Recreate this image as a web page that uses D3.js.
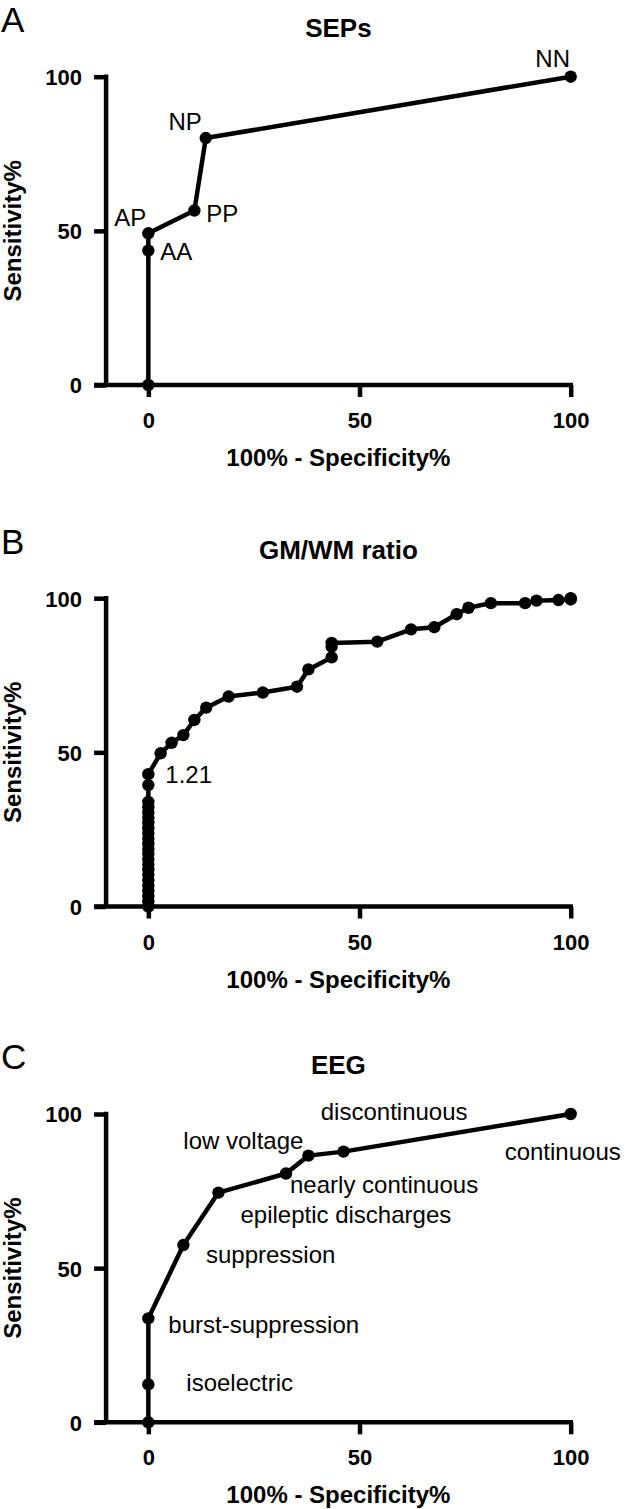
<!DOCTYPE html>
<html>
<head>
<meta charset="utf-8">
<script src="https://cdn.jsdelivr.net/npm/d3@7"></script>
<style>
  html, body { margin: 0; padding: 0; background: #fff; }
  svg { display: block; font-family: "Liberation Sans", Arial, Helvetica, sans-serif; }
</style>
</head>
<body>
<svg id="chart" width="625" height="1509"></svg>
<script>
// ---------------- DATA ----------------
const panelLetters = ["A", "B", "C"];
const panelTitles = ["SEPs", "GM/WM ratio", "EEG"];
const xTickValues = [0, 50, 100];
const yTickValues = [0, 50, 100];
const xAxisTitle = "100% - Specificity%";
const yAxisTitle = "Sensitivity%";

// Panel A: SEPs
const sepsFpr = [0, 0, 0, 10.9, 13.6, 100];
const sepsSens = [0, 43.6, 49.2, 56.6, 80.1, 100];
const sepsLabels = ["", "AA", "AP", "PP", "NP", "NN"];

// Panel B: GM/WM ratio
const gmwmFpr = [0, 0, 0, 0, 0, 0, 0, 0, 0, 0, 0, 0, 0, 0, 0, 0, 0, 0, 0, 0, 0, 0, 0,
  2.9, 5.5, 8.3, 10.9, 13.7, 19.0, 27.1, 35.2, 37.9, 43.4, 43.4, 43.4, 54.2, 62.2, 67.7,
  73.0, 75.8, 81.1, 89.2, 91.9, 97.1, 100, 100];
const gmwmSens = [0, 1.7, 3.4, 5.1, 6.8, 8.5, 10.2, 11.9, 13.6, 15.3, 17.0, 18.6, 20.3,
  22.0, 23.7, 25.4, 27.1, 28.8, 30.5, 32.2, 33.9, 39.4, 42.9,
  49.7, 53.1, 55.6, 60.5, 64.5, 68.1, 69.4, 71.3, 76.9, 80.8, 84.3, 85.5, 85.9, 89.9, 90.6,
  94.8, 96.9, 98.4, 98.4, 99.2, 99.4, 99.6, 100];
const gmwmLabels = gmwmFpr.map((d, i) => i === 22 ? "1.21" : "");

// Panel C: EEG
const eegFpr = [0, 0, 0, 8.3, 16.6, 32.6, 37.9, 46.2, 100];
const eegSens = [0, 12.3, 33.7, 57.5, 74.5, 80.7, 86.5, 87.8, 100];
const eegLabels = ["", "isoelectric", "burst-suppression", "suppression", "epileptic discharges",
  "nearly continuous", "low voltage", "discontinuous", "continuous"];

// ---------------- LAYOUT ----------------
const panels = [
  { fpr: sepsFpr, sens: sepsSens, labels: sepsLabels, top: 0,
    offs: [null, [12, 9, "start"], [-2, -7, "end"], [12, 11, "start"], [-4, -8, "end"], [-18, -10, "middle"]] },
  { fpr: gmwmFpr, sens: gmwmSens, labels: gmwmLabels, top: 521.5,
    offs: gmwmFpr.map((d, i) => i === 22 ? [17, 9, "start"] : null) },
  { fpr: eegFpr, sens: eegSens, labels: eegLabels, top: 1037.3,
    offs: [null, [38, 7, "start"], [20, 15, "start"], [22.6, 18, "start"], [22, 30, "start"],
      [4, 20, "start"], [-5, -7, "end"], [-22.7, -32, "start"], [-8, 46, "middle"]] }
];

const svg = d3.select("#chart");
const x = d3.scaleLinear().domain([-10, 100]).range([106.1, 570.7]);
const plotCenter = (x.range()[0] + x.range()[1]) / 2;
const lineW = 4.5;
const tickLen = 12;

panels.forEach((p, pi) => {
  const g = svg.append("g").attr("transform", `translate(0,${p.top})`);
  const y = d3.scaleLinear().domain([0, 100]).range([385, 76.7]);

  // panel letter
  g.append("text").attr("x", 1).attr("y", 32)
    .attr("font-size", 35).attr("fill", "#000").text(panelLetters[pi]);

  // title
  g.append("text").attr("x", plotCenter).attr("y", 37)
    .attr("text-anchor", "middle").attr("font-size", 26).attr("font-weight", "bold")
    .text(panelTitles[pi]);

  // x axis
  const xAxis = d3.axisBottom(x).tickValues(xTickValues).tickSize(tickLen).tickSizeOuter(0)
    .tickPadding(0).tickFormat(d3.format("d"));
  const gx = g.append("g").attr("transform", `translate(0,${y(0)})`).call(xAxis);
  gx.select(".domain").remove();
  gx.append("line").attr("x1", x(-10) - tickLen).attr("x2", x(100) + lineW / 2)
    .attr("stroke", "#000").attr("stroke-width", lineW);
  gx.selectAll(".tick line").attr("stroke", "#000").attr("stroke-width", lineW);
  gx.selectAll(".tick text").attr("fill", "#000").attr("font-size", 22).attr("font-weight", "bold")
    .attr("font-family", "Liberation Sans, Arial, sans-serif")
    .attr("dy", null).attr("y", 428 - 385);

  // y axis
  const yAxis = d3.axisLeft(y).tickValues(yTickValues).tickSize(tickLen).tickSizeOuter(0)
    .tickPadding(0).tickFormat(d3.format("d"));
  const gy = g.append("g").attr("transform", `translate(${x(-10)},0)`).call(yAxis);
  gy.select(".domain").remove();
  gy.append("line").attr("x1", 0).attr("x2", 0).attr("y1", y(0)).attr("y2", y(100) - lineW / 2)
    .attr("stroke", "#000").attr("stroke-width", lineW);
  gy.selectAll(".tick line").attr("stroke", "#000").attr("stroke-width", lineW);
  gy.selectAll(".tick text").attr("fill", "#000").attr("font-size", 22).attr("font-weight", "bold")
    .attr("font-family", "Liberation Sans, Arial, sans-serif")
    .attr("x", 82 - x(-10)).attr("dy", "0.36em");

  // axis titles
  g.append("text").attr("x", plotCenter).attr("y", 466)
    .attr("text-anchor", "middle").attr("font-size", 24).attr("font-weight", "bold")
    .text(xAxisTitle);
  g.append("text").attr("transform", `translate(21,${(y(0) + y(100)) / 2}) rotate(-90)`)
    .attr("text-anchor", "middle").attr("font-size", 24).attr("font-weight", "bold")
    .text(yAxisTitle);

  // curve
  const pts = p.fpr.map((d, i) => ({ fx: d, sy: p.sens[i], label: p.labels[i], off: p.offs[i] }));
  const line = d3.line().x(d => x(d.fx)).y(d => y(d.sy));
  g.append("path").datum(pts).attr("d", line)
    .attr("fill", "none").attr("stroke", "#000").attr("stroke-width", lineW)
    .attr("stroke-linejoin", "round");

  g.selectAll("circle.pt").data(pts).enter().append("circle").attr("class", "pt")
    .attr("cx", d => x(d.fx)).attr("cy", d => y(d.sy)).attr("r", 6.2).attr("fill", "#000");

  g.selectAll("text.lbl").data(pts.filter(d => d.label && d.off)).enter().append("text")
    .attr("class", "lbl")
    .attr("x", d => x(d.fx) + d.off[0]).attr("y", d => y(d.sy) + d.off[1])
    .attr("text-anchor", d => d.off[2]).attr("font-size", 24).attr("fill", "#000")
    .text(d => d.label);
});
</script>
</body>
</html>
